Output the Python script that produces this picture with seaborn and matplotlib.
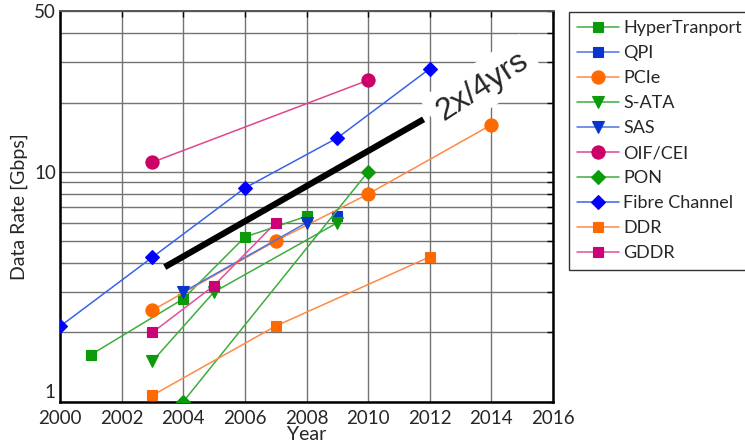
import matplotlib
matplotlib.use("Agg")
import matplotlib.pyplot as plt
from matplotlib.ticker import FixedLocator, NullFormatter
from matplotlib.transforms import ScaledTranslation
import seaborn as sns

# Interface data rates [Gbps] by year
ht_years = [2001, 2004, 2006, 2008]
ht_rates = [1.6, 2.8, 5.2, 6.4]
qpi_years = [2009]
qpi_rates = [6.4]
pcie_years = [2003, 2007, 2010, 2014]
pcie_rates = [2.5, 5.0, 8.0, 16.0]
sata_years = [2003, 2005, 2009]
sata_rates = [1.5, 3.0, 6.0]
sas_years = [2004, 2008]
sas_rates = [3.0, 6.0]
oif_years = [2003, 2010]
oif_rates = [11.0, 25.0]
pon_years = [2004, 2010]
pon_rates = [1.0, 10.0]
fc_years = [2000, 2003, 2006, 2009, 2012]
fc_rates = [2.125, 4.25, 8.5, 14.025, 28.05]
ddr_years = [2003, 2007, 2012]
ddr_rates = [1.066, 2.133, 4.266]
gddr_years = [2003, 2005, 2007]
gddr_rates = [2.0, 3.2, 6.0]

trend_years = [2003.4, 2011.8]
trend_rates = [3.85, 16.9]
trend_label = "2x/4yrs"

x_ticks = [2000, 2002, 2004, 2006, 2008, 2010, 2012, 2014, 2016]
y_ticks = [1, 10, 50]
y_minor = [2, 3, 4, 5, 6, 7, 8, 9, 20, 30, 40]

sns.set_style("white")
plt.rcParams["font.family"] = ["Lato", "DejaVu Sans"]

fig = plt.figure(figsize=(7.45, 4.46), dpi=100)
ax = fig.add_axes([60 / 745, 44.3 / 446, 493 / 745, 390.7 / 446])

# (name, years, rates, marker, marker color, line color, marker size)
series = [
    ("HyperTranport", ht_years, ht_rates, "s", "#0a9a0a", "#3dae3d", 7.5),
    ("QPI", qpi_years, qpi_rates, "s", "#0a35cc", "#4f72e0", 7.5),
    ("PCIe", pcie_years, pcie_rates, "o", "#ff6a00", "#ff8a45", 9.5),
    ("S-ATA", sata_years, sata_rates, "v", "#0a9a0a", "#3dae3d", 9),
    ("SAS", sas_years, sas_rates, "v", "#0a35cc", "#4f72e0", 9),
    ("OIF/CEI", oif_years, oif_rates, "o", "#cc0066", "#e0458f", 9.5),
    ("PON", pon_years, pon_rates, "D", "#0a9a0a", "#3dae3d", 7),
    ("Fibre Channel", fc_years, fc_rates, "D", "#0000ff", "#3a63e8", 7),
    ("DDR", ddr_years, ddr_rates, "s", "#ff6a00", "#ff8a45", 7.5),
    ("GDDR", gddr_years, gddr_rates, "s", "#cc0077", "#e0509a", 7.5),
]

for name, yrs, rates, mk, mcol, lcol, ms in series:
    sns.lineplot(x=yrs, y=rates, ax=ax, label=name, color=lcol, lw=1.1,
                 marker=mk, markersize=ms, markerfacecolor=mcol,
                 markeredgecolor=mcol, markeredgewidth=0.8, zorder=3)

sns.lineplot(x=trend_years, y=trend_rates, ax=ax, color="black", lw=4.5,
             solid_capstyle="butt", label="_nolegend_", zorder=4)

ax.text(2013.7, 23.6, trend_label, fontsize=23, rotation=33,
        family=["Liberation Sans", "DejaVu Sans"],
        ha="center", va="center", rotation_mode="anchor", zorder=5,
        bbox=dict(facecolor="white", edgecolor="none", pad=6))

ax.set_yscale("log")
ax.set_xlim(2000, 2016)
ax.set_ylim(1, 50)
ax.set_xticks(x_ticks)
ax.set_xticklabels([str(t) for t in x_ticks])
ax.yaxis.set_major_locator(FixedLocator(y_ticks))
ax.set_yticklabels([str(t) for t in y_ticks])
ax.yaxis.set_minor_locator(FixedLocator(y_minor))
ax.yaxis.set_minor_formatter(NullFormatter())

ax.grid(True, which="both", color="#737373", lw=1.0)
ax.set_axisbelow(True)
ax.tick_params(axis="both", which="both", direction="in", top=True,
               right=True, length=4, width=1, color="black",
               labelsize=13.5, pad=3)
ax.tick_params(axis="x", pad=6)

# lift the bottom y label so it clears the first year label
low_label = ax.get_yticklabels()[0]
low_label.set_transform(low_label.get_transform() +
                        ScaledTranslation(0, 11 / 100, fig.dpi_scale_trans))

for side in ["left", "bottom", "right"]:
    ax.spines[side].set_color("black")
    ax.spines[side].set_linewidth(1.8)
ax.spines["top"].set_color("#555555")
ax.spines["top"].set_linewidth(1.4)

ax.set_xlabel("Year", fontsize=14, labelpad=-1)
ax.set_ylabel("Data Rate [Gbps]", fontsize=14, labelpad=4)

leg = ax.legend(loc="upper left", bbox_to_anchor=(569 / 745, 1 - 12 / 446),
                bbox_transform=fig.transFigure, borderaxespad=0,
                fontsize=13, frameon=True, fancybox=False, shadow=False,
                edgecolor="black", handlelength=2.3, handletextpad=0.25,
                labelspacing=0.5, borderpad=0.45)
leg.get_frame().set_linewidth(1.0)

fig.savefig("out.png", dpi=100)
